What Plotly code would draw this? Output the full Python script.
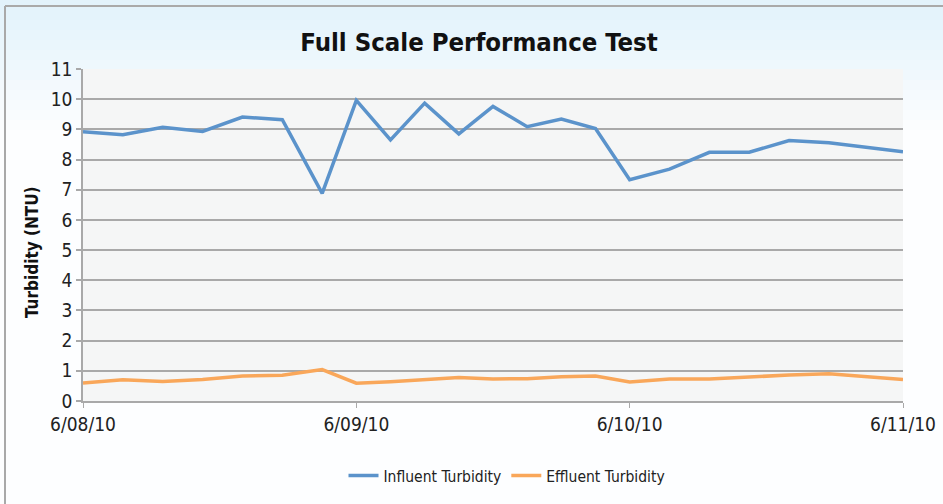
import plotly.graph_objects as go

# ---- data ----
times = [
    "2010-06-08 00:00", "2010-06-08 03:30", "2010-06-08 07:00", "2010-06-08 10:30",
    "2010-06-08 14:00", "2010-06-08 17:30", "2010-06-08 21:00",
    "2010-06-09 00:00", "2010-06-09 03:00", "2010-06-09 06:00", "2010-06-09 09:00",
    "2010-06-09 12:00", "2010-06-09 15:00", "2010-06-09 18:00", "2010-06-09 21:00",
    "2010-06-10 00:00", "2010-06-10 03:30", "2010-06-10 07:00", "2010-06-10 10:30",
    "2010-06-10 14:00", "2010-06-10 17:30", "2010-06-11 00:00",
]
influent = [8.92, 8.82, 9.07, 8.93, 9.41, 9.32, 6.88,
            9.96, 8.65, 9.87, 8.85, 9.76, 9.09, 9.34, 9.03,
            7.33, 7.68, 8.24, 8.24, 8.63, 8.56, 8.26]
effluent = [0.60, 0.70, 0.65, 0.71, 0.83, 0.85, 1.04,
            0.59, 0.64, 0.70, 0.78, 0.73, 0.74, 0.80, 0.83,
            0.63, 0.73, 0.73, 0.80, 0.86, 0.90, 0.71]
tick_dates = ["2010-06-08", "2010-06-09", "2010-06-10", "2010-06-11"]
tick_labels = ["6/08/10", "6/09/10", "6/10/10", "6/11/10"]
y_ticks = list(range(0, 12))
series_names = ["Influent Turbidity", "Effluent Turbidity"]
title_text = "Full Scale Performance Test"
y_title = "Turbidity (NTU)"

# ---- layout geometry (page pixels) ----
W, H = 943, 504
L, R, T, B = 83, 903, 69, 401
PW, PH = R - L, B - T


def px(x):
    return (x - L) / PW


def py(y):
    return (B - y) / PH


FONT = "DejaVu Sans, sans-serif"


def cond(s, bold=False):
    inner = "<b>%s</b>" % s if bold else s
    return '<span style="font-stretch:condensed">%s</span>' % inner


fig = go.Figure()
fig.add_trace(go.Scatter(x=times, y=influent, mode="lines", name=cond(series_names[0]),
                         line=dict(color="#5b93cb", width=3.5)))
fig.add_trace(go.Scatter(x=times, y=effluent, mode="lines", name=cond(series_names[1]),
                         line=dict(color="#f9a75a", width=3.5)))

shapes = []
# background gradient (light blue at top fading to white)
top_c = (226, 242, 251)
n = 14
for i in range(n):
    f = i / n
    c = tuple(int(round(top_c[k] + (255 - top_c[k]) * f)) for k in range(3))
    shapes.append(dict(type="rect", xref="paper", yref="paper", layer="below",
                       x0=px(0), x1=px(W), y0=py(i * 10), y1=py(i * 10 + 10 if i < n - 1 else 504),
                       fillcolor="rgb(%d,%d,%d)" % c, line=dict(width=0)))
# plot area background
shapes.append(dict(type="rect", xref="paper", yref="paper", layer="below",
                   x0=0, x1=1, y0=0, y1=1, fillcolor="#f5f6f6", line=dict(width=0)))
# outer frame (left + top)
shapes.append(dict(type="line", xref="paper", yref="paper", layer="below",
                   x0=px(5), x1=px(5), y0=py(6), y1=py(504),
                   line=dict(color="#a9a9a9", width=2)))
shapes.append(dict(type="line", xref="paper", yref="paper", layer="below",
                   x0=px(5), x1=px(W), y0=py(6), y1=py(6),
                   line=dict(color="#a9a9a9", width=2)))

fig.update_layout(
    width=W, height=H, autosize=False,
    margin=dict(l=L, r=W - R, t=T, b=H - B, pad=0, autoexpand=False),
    paper_bgcolor="white",
    plot_bgcolor="rgba(0,0,0,0)",
    shapes=shapes,
    title=dict(text=cond(title_text, bold=True), x=479 / W, xref="container",
               xanchor="center", y=1 - 42 / H, yref="container", yanchor="middle",
               font=dict(family=FONT, size=25.5, color="#111")),
    xaxis=dict(type="date", range=[tick_dates[0], tick_dates[-1]],
               tickvals=tick_dates, ticktext=[cond(t) for t in tick_labels],
               showgrid=False, zeroline=False, automargin=False,
               showline=True, linecolor="#a9a9a9", linewidth=2,
               ticks="outside", ticklen=5, tickcolor="#a9a9a9", tickwidth=1,
               tickfont=dict(family=FONT, size=19, color="#222")),
    yaxis=dict(range=[0, 11], tickvals=y_ticks, ticktext=[cond(str(v)) for v in y_ticks],
               showgrid=True, gridcolor="#a9a9a9", gridwidth=1.5,
               zeroline=False, automargin=False,
               showline=True, linecolor="#a9a9a9", linewidth=1.5,
               ticks="outside", ticklen=5, tickcolor="#a9a9a9", tickwidth=1.5,
               tickfont=dict(family=FONT, size=19, color="#222")),
    showlegend=True,
    legend=dict(orientation="h", x=px(507), xanchor="center", y=py(476), yanchor="middle",
                font=dict(family=FONT, size=15.5, color="#222"),
                bgcolor="rgba(0,0,0,0)", itemwidth=30),
    annotations=[dict(text=cond(y_title, bold=True), xref="paper", yref="paper",
                      x=px(32), y=py(252), textangle=-90, showarrow=False,
                      xanchor="center", yanchor="middle",
                      font=dict(family=FONT, size=17, color="#111"))],
)

fig.write_html("out.html", config={"displayModeBar": False, "responsive": False},
               post_script="document.body.style.margin='0';"
                           "document.documentElement.style.overflow='hidden';")
